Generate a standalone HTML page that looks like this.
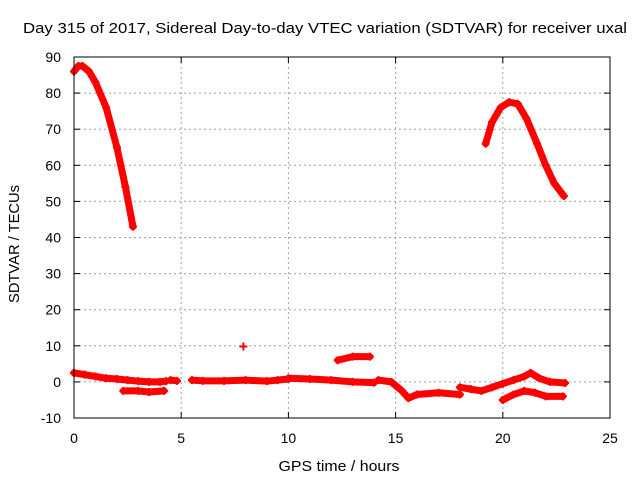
<!DOCTYPE html>
<html><head><meta charset="utf-8"><style>
body{margin:0;background:#fff;}
svg{display:block;font-family:"Liberation Sans",sans-serif;}
</style></head><body>
<svg id="chart" width="640" height="480">
<text x="325" y="33" font-size="15" text-anchor="middle" textLength="604" lengthAdjust="spacingAndGlyphs">Day 315 of 2017, Sidereal Day-to-day VTEC variation (SDTVAR) for receiver uxal</text>
<text x="339" y="471" font-size="15" text-anchor="middle" textLength="121" lengthAdjust="spacingAndGlyphs">GPS time / hours</text>
<text transform="translate(19,244) rotate(-90)" font-size="15" text-anchor="middle" textLength="118" lengthAdjust="spacingAndGlyphs">SDTVAR / TECUs</text>
<g id="grid"></g><g id="ticks"></g><g id="marks"></g>
<rect x="74" y="57" width="536" height="361" fill="none" stroke="#000" stroke-width="1"/>
</svg>
<script>
const xTicks=[0,5,10,15,20,25];
const yTicks=[-10,0,10,20,30,40,50,60,70,80,90];
const segA=[[0,86],[0.2,87.5],[0.4,87.5],[0.7,86],[1,83],[1.5,76],[2,65],[2.4,54],[2.75,43]];
const segB=[[19.2,66],[19.5,72],[19.9,76],[20.3,77.5],[20.7,77],[21.1,73],[21.6,66],[22,60],[22.4,55],[22.85,51.5]];
const segC=[[0,2.5],[0.5,2],[1,1.5],[1.5,1],[2,0.8],[2.5,0.5],[3,0.2],[3.5,0],[4,0],[4.3,0.2]];
const segD=[[2.3,-2.5],[3,-2.5],[3.5,-2.8],[4.2,-2.5]];
const segE=[[4.5,0.5],[4.8,0.3]];
const segF=[[5.5,0.5],[6,0.3],[7,0.3],[8,0.5],[9,0.2],[9.5,0.5],[10,0.8]];
const segG=[[10,1],[11,0.8],[12,0.5],[13,0],[14,-0.2]];
const segH=[[14.2,0.5],[14.8,0],[15.3,-2.5],[15.6,-4.5],[16,-3.5],[17,-3],[18,-3.5]];
const segI=[[18,-1.5],[18.5,-2],[19,-2.5],[19.5,-1.5],[20,-0.5],[20.5,0.5],[21,1.5],[21.3,2.5],[21.7,1],[22.2,0],[22.9,-0.3]];
const segJ=[[20,-5],[20.5,-3.5],[21,-2.5],[21.5,-3],[22,-4],[22.8,-4]];
const segK=[[12.3,6],[13,7],[13.8,7]];
const segL=[[7.9,9.8]];
const series=[segA,segB,segC,segD,segE,segF,segG,segH,segI,segJ,segK,segL];
const NS="http://www.w3.org/2000/svg";
const X=v=>74+v*(536/25), Y=v=>418-(v+10)*(361/100);
function mk(t,a,p){const e=document.createElementNS(NS,t);for(const k in a)e.setAttribute(k,a[k]);p.appendChild(e);return e;}
const grid=document.getElementById('grid'),ticks=document.getElementById('ticks'),marks=document.getElementById('marks');
xTicks.forEach(v=>{
 if(v>0&&v<25){const l=mk('line',{x1:X(v),x2:X(v),y1:57,y2:418,stroke:'#a0a0a0','stroke-dasharray':'2,3'},grid);
 }
 mk('line',{x1:X(v),x2:X(v),y1:418,y2:412,stroke:'#000'},ticks);
 mk('line',{x1:X(v),x2:X(v),y1:57,y2:63,stroke:'#000'},ticks);
 const t=mk('text',{x:X(v),y:443,'font-size':14,'text-anchor':'middle'},ticks);t.textContent=v;
 
});
yTicks.forEach(v=>{
 if(v>-10&&v<90){const l=mk('line',{x1:74,x2:610,y1:Y(v),y2:Y(v),stroke:'#a0a0a0','stroke-dasharray':'2,3'},grid);
 }
 mk('line',{x1:74,x2:80,y1:Y(v),y2:Y(v),stroke:'#000'},ticks);
 mk('line',{x1:610,x2:604,y1:Y(v),y2:Y(v),stroke:'#000'},ticks);
 const t=mk('text',{x:61,y:Y(v)+5,'font-size':14,'text-anchor':'end'},ticks);t.textContent=v;
 
});
series.forEach(s=>{
 const pts=s.map(p=>X(p[0])+','+Y(p[1])).join(' ');
 const pl=mk('polyline',{points:pts,fill:'none',stroke:'#f00','stroke-width':7,'stroke-linejoin':'round','stroke-linecap':'round'},marks);
 
 
 s.forEach(p=>{
  const g=mk('path',{d:`M${X(p[0])-4},${Y(p[1])}h8M${X(p[0])},${Y(p[1])-4}v8`,stroke:'#f00','stroke-width':2},marks);
  
  
 });
});
</script>
</body></html>
